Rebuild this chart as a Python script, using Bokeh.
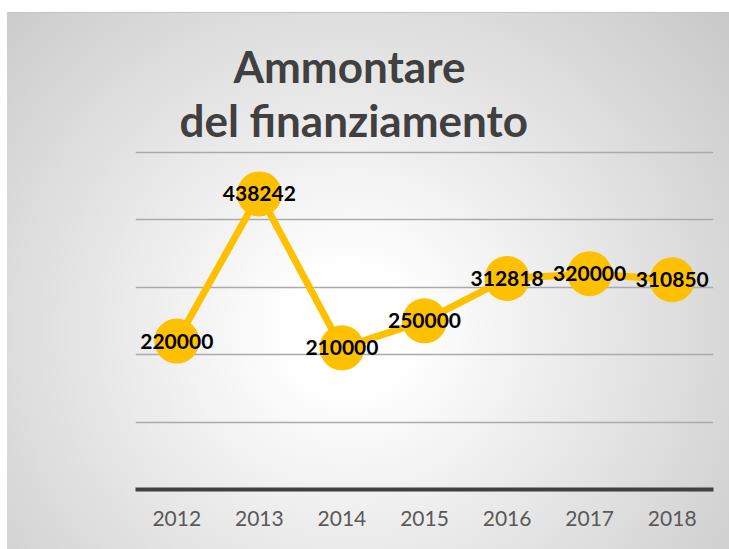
from bokeh.plotting import figure
from bokeh.models import Title, FixedTicker, ColumnDataSource
from bokeh.core.properties import value
from bokeh.embed import file_html
from bokeh.resources import INLINE

years = ["2012", "2013", "2014", "2015", "2016", "2017", "2018"]
amounts = [220000, 438242, 210000, 250000, 312818, 320000, 310850]
labels = [str(v) for v in amounts]
grid_ticks = [100000, 200000, 300000, 400000, 500000]
title_lines = ["Ammontare", "del finanziamento"]

src = ColumnDataSource(dict(year=years, amount=amounts, label=labels))

p = figure(x_range=years, y_range=(0, 510000), width=729, height=549,
           output_backend="svg", toolbar_location=None,
           min_border_left=135, min_border_right=16,
           min_border_top=145, min_border_bottom=60)

p.styles = {
    "background": "linear-gradient(#ffffff, #ffffff) 0 0 / 100% 12px no-repeat, "
                  "linear-gradient(#ffffff, #ffffff) 0 0 / 7px 100% no-repeat, "
                  "linear-gradient(#c4c4c4, #c4c4c4) 0 12px / 100% 1px no-repeat, "
                  "radial-gradient(ellipse 520px 500px at 350px 330px, #ffffff 12%, #c6c6c6 100%)"
}
p.border_fill_color = None
p.background_fill_color = None
p.outline_line_color = None

# titles (added bottom line first)
t2 = Title(text=title_lines[1], align="left", offset=44,
           text_font="Lato", text_font_size="44px", text_font_style="bold",
           text_color="#404040", standoff=0)
t1 = Title(text=title_lines[0], align="left", offset=98,
           text_font="Lato", text_font_size="44px", text_font_style="bold",
           text_color="#404040", standoff=0)
p.add_layout(t2, "above")
p.add_layout(t1, "above")

p.yaxis.visible = False
p.xgrid.visible = False
p.ygrid.ticker = FixedTicker(ticks=grid_ticks)
p.ygrid.grid_line_color = "#aaaaaa"
p.ygrid.grid_line_width = 1.3

ax = p.xaxis[0]
ax.axis_line_color = "#404040"
ax.axis_line_width = 4
ax.major_tick_line_color = None
ax.minor_tick_line_color = None
ax.major_label_text_font = "Lato"
ax.major_label_text_font_size = "21px"
ax.major_label_text_color = "#595959"
ax.major_label_standoff = 15

p.line("year", "amount", source=src, line_color="#FFC000", line_width=7)
p.scatter("year", "amount", source=src, size=45, fill_color="#FFC000", line_color=None)
p.text("year", "amount", text="label", source=src,
       text_font=value("Lato"), text_font_style="bold", text_font_size="21px",
       text_color="#000000", text_align="center", text_baseline="middle")

open("out.html", "w").write(file_html(p, INLINE))
